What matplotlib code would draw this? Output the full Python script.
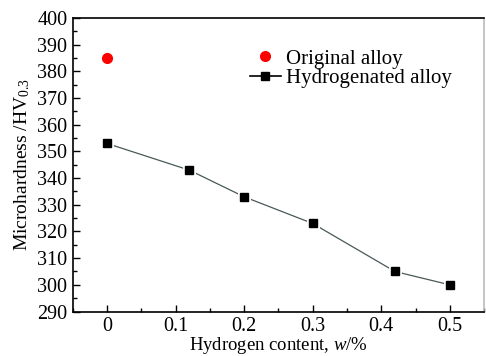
import matplotlib
matplotlib.use("Agg")
import matplotlib.pyplot as plt
from matplotlib.ticker import MultipleLocator

plt.rcParams['font.family'] = ['Liberation Serif', 'DejaVu Serif']
plt.rcParams['mathtext.fontset'] = 'custom'
plt.rcParams['mathtext.rm'] = 'Liberation Serif'
plt.rcParams['mathtext.it'] = 'Liberation Serif:italic'

# data
orig_x = [0]
orig_y = [385]
hyd_x = [0, 0.12, 0.2, 0.3, 0.42, 0.5]
hyd_y = [353, 343, 333, 323, 305, 300]

fig = plt.figure(figsize=(4.86, 3.56), dpi=100)
ax = fig.add_axes([0.150, 0.125, 0.846, 0.824])

ax.plot(orig_x, orig_y, 'o', color='#ff0000', markersize=7, zorder=3)
ax.plot(hyd_x, hyd_y, '-s', color='#4a5858', lw=0.9, markersize=6,
        markerfacecolor='black', markeredgecolor='white', markeredgewidth=3.5,
        zorder=2)
ax.plot(hyd_x, hyd_y, 's', color='black', markersize=6, zorder=4)

ax.set_xlim(-0.05, 0.55)
ax.set_ylim(290, 400)
ax.xaxis.set_minor_locator(MultipleLocator(0.05))
ax.yaxis.set_major_locator(MultipleLocator(10))
ax.yaxis.set_minor_locator(MultipleLocator(5))
ax.set_xticks([0, 0.1, 0.2, 0.3, 0.4, 0.5])
ax.set_xticklabels(['0', '0.1', '0.2', '0.3', '0.4', '0.5'])
ax.tick_params(which='both', direction='in', top=False, right=False, labelsize=14.5, pad=4)
ax.tick_params(which='major', length=5, width=1)
ax.tick_params(which='minor', length=3, width=1)
for s in ax.spines.values():
    s.set_linewidth(1.2)
ax.spines['right'].set_color('#bbbbbb')

ax.set_xlabel('Hydrogen content, $\\mathit{w}$/%', fontsize=13.5, labelpad=-1)
ax.set_ylabel('Microhardness /HV$_{0.3}$', fontsize=14, labelpad=4)

h1, = ax.plot([], [], 'o', color='#ff0000', markersize=7)
h2, = ax.plot([], [], '-s', color='black', lw=1.2, markersize=6)
ax.legend([h1, h2], ['Original alloy', 'Hydrogenated alloy'], loc='upper left',
          bbox_to_anchor=(0.405, 0.93), frameon=False, fontsize=15,
          handlelength=1.5, handletextpad=0.25, labelspacing=0.0, borderpad=0)

fig.savefig('out.png', dpi=100)
